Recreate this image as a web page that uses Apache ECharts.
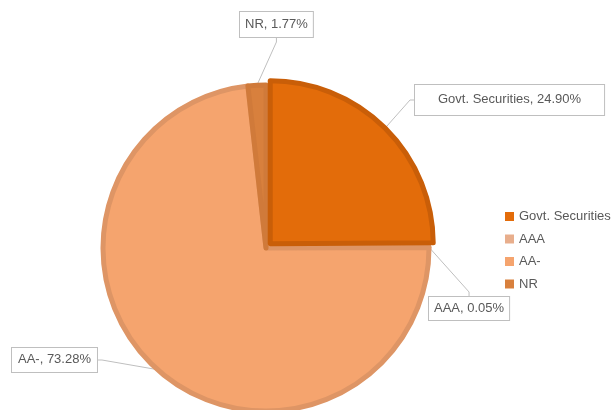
<!DOCTYPE html>
<html>
<head>
<meta charset="utf-8">
<script src="https://cdn.jsdelivr.net/npm/echarts@6/dist/echarts.min.js"></script>
<style>
  html, body { margin: 0; padding: 0; background: #fff; }
  #chart { width: 613px; height: 410px; }
</style>
</head>
<body>
<div id="chart"></div>
<script>
// Portfolio split by credit rating (%)
const categories = ['Govt. Securities', 'AAA', 'AA-', 'NR'];
const shares = [24.90, 0.05, 73.28, 1.77];

const fills   = ['#E36C0A', '#E8AE8C', '#F5A46E', '#D8803D'];
const borders = ['#C95E08', '#DFA07E', '#DE9565', '#D07A3A'];

// Callout boxes: top-left corners
const calloutAt = {
  'Govt. Securities': [415, 85],
  'AAA': [429, 297],
  'AA-': [12, 348],
  'NR': [240, 12]
};
const calloutPad = {
  'Govt. Securities': [8, 23, 9, 23],
  'AAA': [5, 5, 5, 5],
  'AA-': [5, 6, 6, 6],
  'NR': [6, 5, 6, 5]
};

const FONT = '"Liberation Sans", Arial, sans-serif';
const CX = 266, CY = 248, R = 163;
const EXPLODE = 6;   // pull-out distance of the first slice

// Direction of the first slice's bisector (clockwise from 12 o'clock)
const total = shares.reduce((a, b) => a + b, 0);
const midAngle = (shares[0] / total) * Math.PI;   // half of its sweep
const dx = EXPLODE * Math.sin(midAngle);
const dy = -EXPLODE * Math.cos(midAngle);

const hidden = { color: 'transparent', borderWidth: 0 };

function sliceData(showIdx) {
  return categories.map((name, i) => {
    const on = showIdx(i);
    return {
      name,
      value: shares[i],
      itemStyle: on ? { color: fills[i], borderColor: borders[i], borderWidth: 5 } : hidden,
      label: on ? { show: true, padding: calloutPad[name] } : { show: false },
      labelLine: { show: on }
    };
  });
}

const base = {
  type: 'pie',
  radius: R,
  startAngle: 90,
  clockwise: true,
  avoidLabelOverlap: false,
  silent: true,
  label: {
    formatter: p => p.name + ', ' + p.value.toFixed(2) + '%',
    color: '#595959',
    fontSize: 13,
    fontFamily: FONT,
    backgroundColor: '#fff',
    borderColor: '#bfbfbf',
    borderWidth: 1
  },
  labelLine: {
    length: 4,
    length2: 4,
    lineStyle: { color: '#bfbfbf', width: 1 }
  },
  labelLayout: p => {
    const c = calloutAt[categories[p.dataIndex]];
    return { x: c[0], y: c[1], align: 'left', verticalAlign: 'top' };
  },
  emphasis: { disabled: true }
};

const chart = echarts.init(document.getElementById('chart'));
chart.setOption({
  animation: false,
  legend: {
    orient: 'vertical',
    left: 505,
    top: 210,
    padding: 0,
    itemWidth: 9,
    itemHeight: 9,
    itemGap: 9.5,
    icon: 'rect',
    textStyle: { color: '#595959', fontSize: 13, fontFamily: FONT },
    data: categories.map((name, i) => ({ name, itemStyle: { color: fills[i], borderWidth: 0 } }))
  },
  series: [
    Object.assign({}, base, { center: [CX, CY], data: sliceData(i => i !== 0) }),
    Object.assign({}, base, { center: [CX + dx, CY + dy], data: sliceData(i => i === 0) })
  ]
});
</script>
</body>
</html>
